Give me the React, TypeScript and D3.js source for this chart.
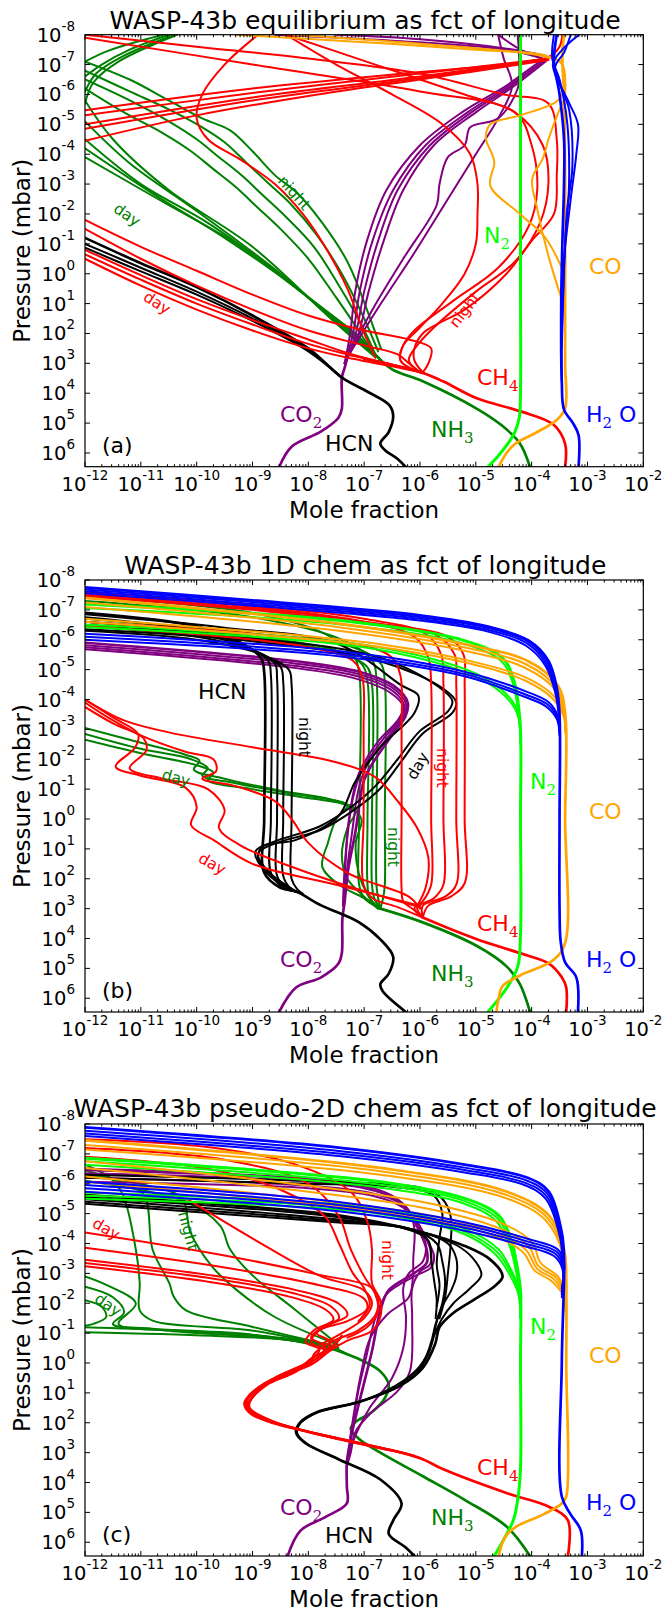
import * as d3 from "d3";

// every point is [log10 mole fraction, log10 pressure in mbar]
type Pt = [number, number];

const X_DECADES = [-12, -11, -10, -9, -8, -7, -6, -5, -4, -3, -2];
const Y_DECADES = [-8, -7, -6, -5, -4, -3, -2, -1, 0, 1, 2, 3, 4, 5, 6];
const P_BOTTOM = 6.46;

// ---------- panel (a): equilibrium ----------
const A_H2O: Pt[][] = [
  [[-3.16, 6.46], [-3.16, 5.4], [-3.26, 5.0], [-3.42, 4.55], [-3.46, 3.6], [-3.47, 1], [-3.45, -1], [-3.42, -3], [-3.42, -4.5], [-3.5, -6], [-3.6, -7.1], [-3.55, -8]],
  [[-3.46, 3.6], [-3.44, 0], [-3.3, -2.5], [-3.2, -4.0], [-3.17, -5.0], [-3.35, -5.8], [-3.62, -7.0], [-3.45, -7.5], [-3.15, -8]],
  [[-3.46, 2.5], [-3.4, -1], [-3.33, -3], [-3.36, -5], [-3.5, -6.5], [-3.63, -7.2], [-3.6, -8]],
  [[-3.46, 2], [-3.37, -2], [-3.27, -3.6], [-3.33, -5.5], [-3.58, -6.9], [-3.42, -7.4], [-3.3, -8]],
];
const A_CO: Pt[][] = [
  [[-4.59, 6.46], [-4.45, 6.0], [-4.3, 5.7], [-3.9, 5.3], [-3.55, 4.9], [-3.4, 4.5], [-3.4, 3], [-3.4, 0], [-3.4, -3], [-3.42, -6], [-3.45, -7.3], [-3.42, -8]],
  [[-3.4, 0.05], [-3.76, -1.22], [-4.21, -2.0], [-4.74, -2.94], [-4.67, -3.75], [-4.82, -4.55], [-4.74, -5.0], [-4.21, -5.3], [-3.53, -5.8], [-3.4, -6.3]],
  [[-3.4, 1.2], [-3.69, -0.53], [-3.91, -2.25], [-3.99, -3.17], [-3.8, -3.86], [-3.69, -4.55], [-3.53, -5.36], [-3.4, -5.9]],
  [[-9.3, -8], [-7, -7.75], [-5, -7.5], [-3.75, -7.3], [-3.45, -7.0], [-3.4, -6]],
  [[-8.3, -8], [-6, -7.7], [-4, -7.35], [-3.45, -7.1]],
];
const A_N2: Pt[][] = [
  [[-4.2, -8], [-4.2, 0], [-4.2, 4], [-4.22, 4.8], [-4.3, 5.3], [-4.45, 5.75], [-4.6, 6.1], [-4.78, 6.46]],
];
const A_NH3: Pt[][] = [
  [[-4.03, 6.46], [-4.21, 5.68], [-4.52, 5.1], [-4.97, 4.53], [-5.95, 3.6], [-6.5, 3.2], [-6.75, 2.8]],
  [[-12, -5.8], [-11.5, -4.5], [-10.5, -2.8], [-9, -0.9], [-7.6, 1.5], [-6.8, 2.8]],
  [[-12, -5.1], [-11.2, -3.7], [-10, -2.1], [-8.5, 0], [-7.4, 1.8], [-6.75, 2.8]],
  [[-12, -4.5], [-11, -3.0], [-9.8, -1.7], [-8.4, 0.2], [-7.3, 1.9], [-6.7, 2.9]],
  [[-12, -4.2], [-10.8, -2.7], [-9.5, -1.2], [-8.2, 0.5], [-7.2, 2.0], [-6.7, 2.9]],
  [[-12, -3.9], [-10.6, -2.4], [-9.2, -0.9], [-8, 0.8], [-7.1, 2.1], [-6.7, 2.9]],
  [[-12, -7.1], [-11.2, -6.5], [-10.5, -5.8], [-9.9, -5.2], [-9.4, -4.8], [-9.0, -4.1], [-8.6, -3.3], [-8.2, -2.7], [-7.75, -1.7], [-7.3, -0.4], [-6.95, 1.2], [-6.7, 2.5]],
  [[-12, -6.8], [-11.2, -6.1], [-10.5, -5.5], [-9.9, -4.9], [-9.5, -4.4], [-9.1, -3.7], [-8.7, -3.0], [-8.3, -2.3], [-7.85, -1.3], [-7.4, 0], [-7.0, 1.5], [-6.75, 2.6]],
  [[-12, -6.5], [-11.2, -5.8], [-10.5, -5.1], [-10, -4.5], [-9.6, -3.9], [-9.2, -3.3], [-8.8, -2.6], [-8.4, -1.9], [-7.9, -0.9], [-7.45, 0.4], [-7.05, 1.7], [-6.8, 2.7]],
  [[-12, -6.2], [-11.3, -5.4], [-10.6, -4.7], [-10.1, -4.1], [-9.7, -3.5], [-9.3, -2.9], [-8.9, -2.2], [-8.5, -1.5], [-8.0, -0.5], [-7.5, 0.8], [-7.1, 1.9], [-6.8, 2.8]],
  [[-12, -7.1], [-11.6, -7.45], [-11.0, -7.8], [-10.6, -8]],
  [[-12, -6.6], [-11.7, -7.0], [-11.2, -7.5], [-10.5, -8]],
  [[-12, -6.1], [-11.8, -6.7], [-11.3, -7.3], [-10.4, -8]],
  [[-12, -5.7], [-11.85, -6.4], [-11.4, -7.1], [-10.35, -8]],
];
const A_CH4: Pt[][] = [
  [[-3.4, 6.46], [-3.4, 5.7], [-3.61, 5.05], [-4.21, 4.6], [-4.97, 4.18], [-5.58, 3.61], [-5.95, 3.32], [-6.5, 3.05], [-7.0, 2.85]],
  [[-12, -0.5], [-11, 0.4], [-10, 1.2], [-9, 1.9], [-8, 2.5], [-7.2, 2.85], [-6.5, 3.1], [-5.95, 3.32]],
  [[-12, -0.65], [-11, 0.2], [-10, 1.0], [-9, 1.7], [-8, 2.35], [-7.2, 2.75], [-6.5, 3.05], [-5.95, 3.3]],
  [[-12, -0.8], [-11, 0.05], [-10, 0.85], [-9, 1.55], [-8, 2.2], [-7.3, 2.65], [-6.6, 3.0], [-5.95, 3.3]],
  [[-12, -1.8], [-11, -0.9], [-10, -0.1], [-9, 0.7], [-8, 1.4], [-7, 1.9], [-6.2, 2.2], [-5.8, 2.5], [-5.85, 3.0], [-5.95, 3.3]],
  [[-12, -1.5], [-11, -0.5], [-10, 0.4], [-9, 1.2], [-8, 1.9], [-7, 2.4], [-6.4, 2.7], [-6.2, 3.0], [-6.0, 3.3]],
  [[-12, -8], [-10, -7.6], [-8, -7.2], [-6, -6.7], [-4.5, -6.0], [-3.7, -5.7], [-3.55, -4.5], [-3.55, -3.3], [-3.6, -2.0], [-4.0, -1.1], [-4.45, 0], [-5.2, 1.2], [-5.6, 1.6], [-5.95, 2.0], [-6.1, 2.5], [-6.1, 2.9], [-5.95, 3.3]],
  [[-8.4, -8], [-6.8, -7.0], [-5.2, -6.0], [-4.3, -5.4], [-3.8, -4.3], [-3.7, -3.0], [-3.85, -1.7], [-4.3, -0.4], [-5.0, 0.6], [-5.75, 1.8], [-6.05, 2.4], [-6.2, 2.9], [-6.0, 3.3]],
  [[-12, -7.9], [-9, -7.0], [-6, -6.1], [-4.3, -5.4], [-4.0, -4.3], [-3.9, -2.8], [-4.05, -1.6], [-4.6, -0.2], [-5.4, 0.9], [-6.1, 1.9], [-6.3, 2.4], [-6.35, 2.9], [-6.1, 3.25]],
  [[-8.9, -8], [-9.5, -7], [-9.9, -6], [-10, -5.2], [-9.8, -4.5], [-9.2, -3.8], [-8.6, -3.0], [-8.1, -2.0], [-7.7, -0.9], [-7.3, 0.5], [-7.0, 2.0], [-6.8, 2.8]],
  [[-8.4, -8], [-7.5, -7], [-6.5, -6], [-5.6, -5], [-5.1, -4.0], [-4.97, -3.0], [-4.97, -2.0], [-5.0, -1.0], [-5.2, 0], [-5.6, 1.0], [-6.0, 1.8], [-6.3, 2.4], [-6.35, 2.9], [-6.0, 3.3]],
  [[-12, -5.47], [-9, -6.2], [-6, -6.75], [-4.5, -7.0], [-3.7, -7.25], [-3.5, -7.6], [-3.45, -8]],
  [[-12, -5.3], [-9, -6.05], [-6, -6.7], [-3.7, -7.2]],
  [[-12, -5.0], [-9, -5.9], [-6, -6.6], [-3.7, -7.2]],
  [[-12, -4.85], [-9, -5.8], [-6, -6.55], [-3.7, -7.2]],
  [[-12, -4.45], [-10, -5.3], [-8, -5.95], [-6, -6.5], [-3.7, -7.15]],
];
const A_HCN: Pt[][] = [
  [[-12, -1.2], [-11, -0.35], [-10, 0.45], [-9, 1.4], [-8, 2.5], [-7.39, 3.49], [-6.94, 3.95], [-6.55, 4.4], [-6.48, 4.76], [-6.56, 5.3], [-6.71, 5.68], [-6.63, 5.9], [-6.4, 6.2], [-6.26, 6.46]],
  [[-12, -1.0], [-11, -0.2], [-10, 0.6], [-9, 1.5], [-8, 2.55], [-7.39, 3.49]],
  [[-12, -0.87], [-11, -0.08], [-10, 0.7], [-9, 1.58], [-8, 2.6], [-7.39, 3.5]],
];
const A_CO2: Pt[][] = [
  [[-8.52, 6.46], [-8.3, 5.79], [-7.77, 5.28], [-7.46, 4.82], [-7.4, 4.53], [-7.4, 3.49], [-7.35, 3.15], [-7.3, 2.8]],
  [[-7.35, 3.0], [-7.25, 2.0], [-7.16, 0.6], [-6.95, -1.1], [-6.6, -2.8], [-6.0, -4.3], [-5.25, -5.4], [-4.45, -6.3], [-3.85, -7.1], [-3.7, -7.25]],
  [[-7.35, 3.0], [-7.2, 2.0], [-7.08, 0.6], [-6.85, -1.1], [-6.48, -2.8], [-5.9, -4.3], [-5.15, -5.4], [-4.4, -6.3], [-3.8, -7.1]],
  [[-7.35, 3.0], [-7.15, 2.0], [-7.0, 0.6], [-6.75, -1.1], [-6.4, -2.8], [-5.82, -4.3], [-5.08, -5.4], [-4.35, -6.3], [-3.8, -7.1]],
  [[-7.35, 3.0], [-7.1, 2.0], [-6.92, 0.6], [-6.65, -1.1], [-6.3, -2.8], [-5.75, -4.3], [-5.0, -5.4], [-4.3, -6.3], [-3.75, -7.1]],
  [[-7.3, 2.8], [-6.85, 1.2], [-6.3, -0.5], [-5.7, -2.3], [-5.65, -3.0], [-5.5, -3.9], [-5.2, -4.3], [-5.1, -4.9], [-4.6, -5.2], [-4.25, -6.2], [-4.22, -7], [-4.25, -8]],
  [[-7.3, 2.8], [-6.7, 1.0], [-6.1, -0.7], [-5.5, -2.5], [-5.0, -4.0], [-4.6, -5.2], [-4.35, -6.3], [-4.5, -7.2], [-4.6, -8]],
  [[-7.5, -8], [-6, -7.85], [-4.5, -7.55], [-3.75, -7.3]],
  [[-8.6, -8], [-6.5, -7.8], [-4.5, -7.5], [-3.8, -7.2]],
  [[-4.6, -8], [-4.2, -7.5], [-3.8, -7.2]],
];

// ---------- panel (b): 1D chemistry ----------
const B_H2O: Pt[][] = [
  [[-12, -7.75], [-9, -7.32], [-6, -6.82], [-4.8, -6.45], [-4.05, -5.97], [-3.7, -5.3], [-3.55, -4.4], [-3.5, -3.5], [-3.5, 0], [-3.5, 3], [-3.48, 4.1], [-3.4, 4.8], [-3.2, 5.3], [-3.17, 6.45]],
  [[-12, -7.68], [-9, -7.26], [-6, -6.76], [-4.8, -6.4], [-4.05, -5.92], [-3.72, -5.25], [-3.56, -4.35], [-3.5, -3.4]],
  [[-12, -7.62], [-9, -7.2], [-6, -6.7], [-4.8, -6.34], [-4.07, -5.86], [-3.74, -5.2], [-3.57, -4.3], [-3.5, -3.3]],
  [[-12, -7.56], [-9, -7.14], [-6, -6.64], [-4.8, -6.28], [-4.1, -5.8], [-3.76, -5.15], [-3.58, -4.25], [-3.5, -3.2]],
  [[-12, -6.2], [-7.46, -5.62], [-5.2, -4.93], [-4.06, -4.24], [-3.69, -3.9], [-3.53, -3.44], [-3.5, -3.0]],
  [[-12, -6.1], [-7.46, -5.53], [-5.2, -4.85], [-4.1, -4.16], [-3.72, -3.84], [-3.54, -3.4], [-3.5, -2.9]],
  [[-12, -6.0], [-7.46, -5.45], [-5.2, -4.78], [-4.14, -4.1], [-3.75, -3.78], [-3.55, -3.35], [-3.5, -2.8]],
];
const B_CO: Pt[][] = [
  [[-12, -7.4], [-7.46, -6.54], [-5.2, -5.85], [-4.06, -5.28], [-3.53, -4.47], [-3.4, -3.55], [-3.4, 0], [-3.4, 4.15], [-3.61, 4.72], [-4.21, 5.24], [-4.52, 5.59], [-4.59, 5.99], [-4.63, 6.45]],
  [[-12, -7.25], [-7.46, -6.42], [-5.2, -5.74], [-4.1, -5.18], [-3.56, -4.4], [-3.4, -3.45]],
  [[-12, -7.1], [-7.46, -6.3], [-5.2, -5.63], [-4.14, -5.08], [-3.58, -4.33], [-3.4, -3.35]],
  [[-12, -6.7], [-6.71, -5.85], [-4.82, -5.16], [-4.06, -4.7], [-3.61, -4.13], [-3.42, -3.5], [-3.4, -3.0]],
  [[-12, -6.6], [-6.71, -5.76], [-4.82, -5.07], [-4.1, -4.62], [-3.64, -4.06], [-3.43, -3.45], [-3.4, -2.9]],
];
const B_N2: Pt[][] = [
  [[-12, -7.2], [-7.46, -6.65], [-5.2, -5.97], [-4.52, -5.39], [-4.33, -4.7], [-4.21, -3.32], [-4.2, 0], [-4.2, 3.92], [-4.25, 4.95], [-4.44, 5.64], [-4.78, 6.45]],
  [[-12, -7.06], [-7.46, -6.52], [-5.2, -5.86], [-4.55, -5.3], [-4.35, -4.62], [-4.22, -3.25], [-4.2, -2.5]],
  [[-12, -6.5], [-6.71, -5.74], [-4.82, -4.7], [-4.29, -3.78], [-4.2, -2.98]],
  [[-12, -6.42], [-6.71, -5.66], [-4.85, -4.62], [-4.3, -3.7], [-4.2, -2.9]],
];
const B_CH4: Pt[][] = [
  [[-5.95, 3.3], [-5.5, 3.65], [-4.97, 4.03], [-4.21, 4.49], [-3.69, 4.84], [-3.46, 5.3], [-3.38, 5.64], [-3.38, 6.45]],
  [[-12, -6.45], [-9.5, -6.1], [-8, -5.75], [-7.2, -5.3], [-7.03, -4.7], [-7.01, -3], [-7.01, 0], [-7.01, 2.2], [-6.85, 2.65], [-6.4, 2.95], [-5.95, 3.3]],
  [[-12, -6.6], [-9, -6.2], [-7, -5.8], [-6.5, -5.4], [-6.35, -4.8], [-6.33, -3], [-6.33, 0], [-6.33, 2.3], [-6.3, 2.75], [-6.1, 3.05], [-5.95, 3.3]],
  [[-12, -7.55], [-9, -7.1], [-7, -6.6], [-6.1, -6.1], [-5.85, -5.4], [-5.8, -4.5], [-5.8, 0], [-5.8, 2.2], [-5.95, 2.75], [-6.1, 3.0], [-5.95, 3.3]],
  [[-12, -7.6], [-9, -7.15], [-7, -6.7], [-5.9, -6.2], [-5.62, -5.5], [-5.58, -4.5], [-5.58, 0], [-5.58, 2.2], [-5.75, 2.65], [-6.05, 2.95], [-5.95, 3.3]],
  [[-12, -7.5], [-9, -7.05], [-7, -6.6], [-5.7, -6.15], [-5.38, -5.5], [-5.35, -4.5], [-5.35, 0], [-5.35, 2.2], [-5.55, 2.6], [-5.95, 2.9], [-5.95, 3.3]],
  [[-12, -7.45], [-9, -7.0], [-7, -6.55], [-5.5, -6.1], [-5.22, -5.5], [-5.2, -4.5], [-5.2, 0], [-5.2, 2.15], [-5.45, 2.6], [-5.85, 2.9], [-5.95, 3.3]],
  [[-12, -4.0], [-11.5, -3.4], [-11.05, -2.85], [-11.1, -2.4], [-11.45, -1.75], [-11.0, -1.45], [-10.2, -1.05], [-10.0, -0.4], [-10.1, 0.2], [-9.7, 0.7], [-9.0, 1.5], [-7.5, 2.2], [-6.0, 2.9]],
  [[-12, -3.75], [-11.5, -3.2], [-10.95, -2.7], [-10.9, -2.3], [-11.2, -1.7], [-10.6, -1.35], [-9.8, -1.0], [-9.5, -0.3], [-9.6, 0.3], [-9.2, 0.9], [-8.3, 1.6], [-7.2, 2.3], [-6.0, 2.95]],
  [[-12, -3.9], [-11.5, -3.3], [-11.0, -2.8], [-10.2, -2.25], [-9.7, -2.0], [-9.65, -1.6], [-9.9, -1.35], [-9.3, -1.1], [-8.6, -0.6], [-8.3, 0], [-8.0, 0.8], [-7.3, 1.8], [-6.2, 2.6], [-6.0, 3.0]],
  [[-12, -4.0], [-11.3, -3.3], [-10.5, -2.9], [-9.0, -2.4], [-7.5, -1.9], [-6.8, -1.4], [-6.4, -0.6], [-6.05, 0.3], [-5.85, 1.3], [-5.9, 2.3], [-6.05, 2.9]],
];
const B_NH3: Pt[][] = [
  [[-6.71, 3.0], [-5.95, 3.46], [-4.97, 4.26], [-4.44, 4.95], [-4.21, 5.53], [-4.03, 6.45]],
  [[-12, -7.45], [-9, -6.9], [-7.7, -6.2], [-7.2, -5.5], [-7.09, -4.9], [-7.09, 0], [-7.09, 2.2], [-7.0, 2.65], [-6.71, 3.0]],
  [[-12, -6.6], [-9, -6.1], [-7.6, -5.7], [-7.05, -5.2], [-6.94, -4.6], [-6.94, 0], [-6.94, 2.2], [-6.9, 2.65], [-6.71, 3.0]],
  [[-12, -6.5], [-9, -6.0], [-7.5, -5.6], [-6.95, -5.1], [-6.86, -4.5], [-6.86, 0], [-6.86, 2.2], [-6.82, 2.65], [-6.71, 3.0]],
  [[-12, -7.3], [-9, -6.75], [-7.4, -6.0], [-6.85, -5.3], [-6.78, -4.7], [-6.78, 0], [-6.78, 2.2], [-6.75, 2.65], [-6.71, 3.0]],
  [[-12, -6.7], [-9, -6.2], [-7.2, -5.75], [-6.7, -5.2], [-6.63, -4.6], [-6.63, 0], [-6.63, 2.2], [-6.66, 2.65], [-6.71, 3.0]],
  [[-12, -3.05], [-11, -2.55], [-10.2, -2.15], [-9.95, -1.95], [-10.05, -1.65], [-9.5, -1.35], [-8.5, -0.95], [-7.7, -0.7], [-7.3, -0.45], [-7.5, 0], [-7.65, 0.8], [-7.75, 1.6], [-7.45, 2.2], [-7.0, 2.65], [-6.71, 3.0]],
  [[-12, -2.85], [-11, -2.35], [-10.1, -2.0], [-9.8, -1.7], [-9.9, -1.45], [-9.3, -1.2], [-8.3, -0.85], [-7.5, -0.6], [-7.15, -0.3], [-7.3, 0.3], [-7.4, 1.2], [-7.3, 2.0], [-7.0, 2.6], [-6.75, 3.0]],
  [[-12, -2.65], [-11, -2.2], [-10.0, -1.8], [-9.7, -1.55], [-9.8, -1.3], [-9.0, -1.0], [-8.0, -0.7], [-7.3, -0.45], [-7.05, 0], [-7.15, 0.8], [-7.1, 1.8], [-6.95, 2.5], [-6.75, 3.0]],
];
const B_HCN: Pt[][] = [
  [[-12, -6.9], [-10, -6.45], [-9.28, -5.97], [-8.85, -5.4], [-8.79, -4.9], [-8.79, 0], [-8.79, 1.8], [-8.5, 2.3], [-8.22, 2.43], [-7.77, 2.89], [-7.09, 3.46], [-6.71, 4.03], [-6.48, 4.61], [-6.56, 5.18], [-6.71, 5.53], [-6.67, 5.76], [-6.26, 6.45]],
  [[-12, -6.75], [-10, -6.3], [-9.2, -5.85], [-8.72, -5.3], [-8.67, -4.8], [-8.67, 0], [-8.67, 1.8], [-8.45, 2.3], [-8.22, 2.43]],
  [[-12, -6.6], [-10, -6.2], [-9.1, -5.75], [-8.6, -5.2], [-8.56, -4.7], [-8.56, 0], [-8.56, 1.9], [-8.4, 2.3], [-8.2, 2.45]],
  [[-12, -6.45], [-10, -6.1], [-9.0, -5.65], [-8.5, -5.1], [-8.45, -4.6], [-8.45, 0], [-8.45, 1.9], [-8.33, 2.3], [-8.18, 2.45]],
  [[-12, -6.3], [-10, -6.0], [-8.9, -5.55], [-8.35, -5.0], [-8.3, -4.5], [-8.3, 0], [-8.3, 2.0], [-8.2, 2.35], [-8.1, 2.5]],
  [[-12, -6.85], [-9.5, -6.4], [-7.46, -5.85], [-6.33, -4.47], [-6.03, -4.13], [-6.1, -3.55], [-6.71, -2.4], [-7.16, -1.25], [-7.46, -0.1], [-8.22, 0.7], [-8.83, 0.93], [-8.9, 1.39], [-8.67, 1.85], [-8.22, 2.43]],
  [[-12, -6.35], [-9, -5.95], [-6.71, -5.28], [-5.58, -4.36], [-5.35, -3.9], [-5.42, -3.55], [-5.95, -2.86], [-6.33, -1.94], [-6.71, -1.02], [-7.16, -0.33], [-7.77, 0.36], [-8.6, 0.82], [-8.9, 1.16], [-8.67, 1.85], [-8.22, 2.43]],
  [[-12, -6.5], [-9, -6.05], [-6.71, -5.4], [-5.65, -4.4], [-5.42, -3.95], [-5.5, -3.6], [-6.0, -2.95], [-6.4, -2.0], [-6.8, -1.1], [-7.2, -0.45], [-7.8, 0.25], [-8.6, 0.75], [-8.95, 1.1], [-8.75, 1.8], [-8.3, 2.4]],
];
const B_CO2: Pt[][] = [
  [[-12, -5.9], [-8.22, -5.28], [-7.09, -4.93], [-6.48, -4.47], [-6.22, -3.9], [-6.26, -3.44], [-6.48, -2.86], [-6.86, -1.83], [-7.01, -1.25], [-7.16, 0.47], [-7.28, 1.62], [-7.35, 2.77], [-7.39, 3.34], [-7.4, 4.49], [-7.46, 4.84], [-7.77, 5.3], [-8.22, 5.64], [-8.52, 6.45]],
  [[-12, -5.82], [-8.22, -5.2], [-7.1, -4.85], [-6.5, -4.4], [-6.25, -3.85], [-6.3, -3.4], [-6.55, -2.8], [-6.95, -1.8], [-7.1, -1.0], [-7.22, 0.5], [-7.3, 1.6], [-7.36, 2.8]],
  [[-12, -5.75], [-8.22, -5.12], [-7.12, -4.78], [-6.52, -4.33], [-6.28, -3.8], [-6.35, -3.35], [-6.65, -2.7], [-7.05, -1.6], [-7.2, -0.7], [-7.3, 0.6], [-7.34, 1.7], [-7.37, 2.8]],
  [[-12, -5.68], [-8.22, -5.05], [-7.15, -4.7], [-6.55, -4.25], [-6.3, -3.75], [-6.4, -3.3], [-6.75, -2.6], [-7.1, -1.5], [-7.25, -0.3], [-7.32, 0.9], [-7.36, 2.0], [-7.38, 2.9]],
];

// ---------- panel (c): pseudo-2D chemistry ----------
const C_H2O: Pt[][] = [
  [[-12, -7.89], [-7.46, -7.21], [-5.2, -6.64], [-4.06, -6.19], [-3.69, -5.73], [-3.46, -4.37], [-3.42, -3.58], [-3.46, 0], [-3.46, 4.47], [-3.31, 5.04], [-3.12, 5.6], [-3.1, 6.46]],
  [[-12, -7.77], [-7.46, -7.1], [-5.2, -6.54], [-4.08, -6.1], [-3.71, -5.65], [-3.47, -4.3], [-3.43, -3.5]],
  [[-12, -7.68], [-7.46, -7.01], [-5.2, -6.46], [-4.1, -6.02], [-3.73, -5.58], [-3.48, -4.24], [-3.44, -3.45]],
  [[-12, -7.6], [-7.46, -6.93], [-5.2, -6.38], [-4.12, -5.95], [-3.75, -5.5], [-3.49, -4.18], [-3.45, -3.4]],
  [[-12, -6.07], [-7.46, -5.39], [-5.2, -4.71], [-4.06, -4.15], [-3.53, -3.8], [-3.42, -3.35], [-3.46, -2.5]],
  [[-12, -5.96], [-7.46, -5.29], [-5.2, -4.62], [-4.08, -4.07], [-3.55, -3.72], [-3.43, -3.28], [-3.46, -2.4]],
  [[-12, -5.85], [-7.46, -5.19], [-5.2, -4.53], [-4.1, -3.99], [-3.57, -3.65], [-3.44, -3.22], [-3.46, -2.3]],
  [[-12, -5.73], [-7.46, -5.08], [-5.2, -4.43], [-4.12, -3.91], [-3.6, -3.58], [-3.45, -3.16], [-3.46, -2.2]],
];
const C_CO: Pt[][] = [
  [[-12, -7.45], [-6.71, -6.53], [-4.44, -5.73], [-3.69, -4.94], [-3.42, -3.8], [-3.38, -2.5], [-3.38, 0], [-3.38, 4.47], [-3.46, 4.7], [-3.76, 5.04], [-4.29, 5.49], [-4.48, 5.83], [-4.59, 6.46]],
  [[-12, -7.3], [-6.71, -6.42], [-4.46, -5.63], [-3.72, -4.86], [-3.43, -3.72], [-3.38, -2.4]],
  [[-12, -7.15], [-6.71, -6.3], [-4.48, -5.53], [-3.75, -4.78], [-3.44, -3.65], [-3.38, -2.3]],
  [[-12, -6.75], [-5.95, -5.39], [-4.44, -4.6], [-3.99, -4.03], [-3.84, -3.35], [-3.53, -2.9], [-3.42, -2.44], [-3.38, -1.5]],
  [[-12, -6.53], [-5.95, -5.2], [-4.5, -4.45], [-4.05, -3.9], [-3.88, -3.25], [-3.56, -2.85], [-3.43, -2.4], [-3.38, -1.5]],
  [[-12, -6.24], [-5.95, -4.98], [-4.55, -4.3], [-4.1, -3.78], [-3.9, -3.15], [-3.6, -2.8], [-3.44, -2.35], [-3.38, -1.5]],
  [[-12, -6.07], [-5.95, -4.85], [-4.6, -4.2], [-4.15, -3.7], [-3.95, -3.1], [-3.65, -2.75], [-3.45, -2.3], [-3.38, -1.5]],
];
const C_N2: Pt[][] = [
  [[-12, -6.85], [-6.71, -6.07], [-5.2, -5.51], [-4.59, -4.94], [-4.37, -4.15], [-4.25, -3.12], [-4.2, -2.44], [-4.2, 0], [-4.2, 3.56], [-4.25, 4.58], [-4.33, 5.27], [-4.67, 6.46]],
  [[-12, -6.75], [-6.71, -5.97], [-5.2, -5.42], [-4.62, -4.86], [-4.39, -4.08], [-4.26, -3.05], [-4.2, -2.3]],
  [[-12, -6.64], [-6.71, -5.87], [-5.2, -5.33], [-4.65, -4.78], [-4.41, -4.0], [-4.27, -2.98], [-4.2, -2.2]],
  [[-12, -5.7], [-6.71, -5.17], [-5.2, -4.49], [-4.59, -3.8], [-4.37, -3.12], [-4.22, -2.44], [-4.2, -1.5]],
  [[-12, -5.6], [-6.71, -5.08], [-5.2, -4.4], [-4.62, -3.72], [-4.38, -3.05], [-4.23, -2.38], [-4.2, -1.5]],
  [[-12, -5.5], [-6.71, -4.99], [-5.2, -4.31], [-4.65, -3.64], [-4.4, -2.98], [-4.24, -2.32], [-4.2, -1.5]],
];
const C_HCN: Pt[][] = [
  [[-12, -5.62], [-7.46, -4.94], [-5.95, -4.37], [-5.2, -3.92], [-4.74, -3.46], [-4.52, -2.9], [-4.67, -2.56], [-5.05, -2.1], [-5.42, -1.65], [-5.65, -1.2], [-5.73, -0.63], [-5.95, 0.16], [-6.33, 0.73], [-7.09, 1.3], [-7.84, 1.64], [-8.14, 1.98], [-8.22, 2.32], [-8.07, 2.66], [-7.46, 3.22], [-6.71, 3.9], [-6.33, 4.7], [-6.48, 5.27], [-6.56, 5.72], [-6.26, 6.17], [-6.1, 6.46]],
  [[-12, -5.55], [-7.46, -4.88], [-6.0, -4.4], [-5.35, -3.95], [-5.05, -3.5], [-4.9, -2.95], [-5.1, -2.5], [-5.4, -2.0], [-5.6, -1.5], [-5.75, -0.9], [-5.85, -0.3], [-6.05, 0.3], [-6.4, 0.8], [-7.09, 1.3], [-7.84, 1.66], [-8.14, 2.0], [-8.2, 2.34], [-8.04, 2.68], [-7.46, 3.22]],
  [[-12, -5.48], [-7.46, -4.8], [-6.1, -4.45], [-5.5, -4.0], [-5.35, -3.5], [-5.35, -2.9], [-5.45, -2.4], [-5.6, -1.9], [-5.72, -1.3], [-5.8, -0.7], [-5.95, 0.0], [-6.3, 0.6], [-7.0, 1.25], [-7.8, 1.62], [-8.12, 1.96]],
  [[-12, -5.4], [-7.46, -4.75], [-6.2, -4.5], [-5.7, -4.0], [-5.6, -3.4], [-5.55, -2.7], [-5.6, -2.0], [-5.7, -1.4], [-5.8, -0.6], [-6.0, 0.1], [-6.35, 0.7]],
  [[-12, -6.3], [-8, -6.1], [-6.71, -6.0], [-5.95, -5.85], [-5.6, -5.5], [-5.45, -4.9], [-5.45, -4.0], [-5.5, -3.0], [-5.55, -2.2], [-5.65, -1.5]],
  [[-12, -6.2], [-8, -6.0], [-6.5, -5.9], [-5.75, -5.6], [-5.6, -5.0], [-5.65, -4.2], [-5.7, -3.3], [-5.65, -2.6], [-5.7, -1.9]],
  [[-12, -5.33], [-7.46, -4.7], [-6.3, -4.52], [-5.85, -4.1], [-5.8, -3.5], [-5.75, -2.8], [-5.7, -2.1], [-5.72, -1.5]],
];
const C_CO2: Pt[][] = [
  [[-12, -6.5], [-8.22, -6.19], [-7.09, -5.96], [-6.56, -5.62], [-6.26, -5.17], [-6.03, -4.49], [-5.88, -3.8], [-5.88, -3.35], [-6.1, -3.01], [-6.56, -2.44], [-6.71, -1.76], [-6.86, -0.4], [-7.01, 0.73], [-7.16, 1.86], [-7.24, 2.54], [-7.31, 3.34], [-7.31, 4.13], [-7.31, 4.7], [-7.69, 5.15], [-8.14, 5.61], [-8.37, 6.46]],
  [[-12, -6.35], [-8.2, -6.1], [-7.0, -5.85], [-6.45, -5.5], [-6.15, -5.0], [-5.95, -4.4], [-5.8, -3.7], [-5.82, -3.3], [-6.0, -3.05], [-6.14, -2.5], [-6.14, -1.5], [-6.18, 0.28], [-6.41, 0.96], [-6.86, 1.64], [-7.16, 2.32], [-7.24, 3.0], [-7.3, 3.4]],
  [[-12, -6.2], [-8.1, -5.95], [-6.9, -5.7], [-6.35, -5.35], [-6.08, -4.8], [-5.9, -4.2], [-5.75, -3.6], [-5.8, -3.2], [-6.1, -2.9], [-6.6, -2.3], [-6.8, -1.5], [-6.95, -0.3], [-7.1, 0.9], [-7.2, 2.0], [-7.28, 3.0]],
  [[-12, -6.07], [-8, -5.85], [-6.85, -5.6], [-6.3, -5.2], [-6.05, -4.6], [-5.9, -4.0], [-5.95, -3.4], [-6.2, -3.0], [-6.3, -2.5], [-6.25, -1.5], [-6.3, -0.5], [-6.5, 0.5], [-6.9, 1.5], [-7.15, 2.4], [-7.28, 3.1]],
  [[-12, -6.45], [-8, -6.15], [-6.95, -5.9], [-6.5, -5.6], [-6.2, -5.1], [-6.1, -4.5], [-6.12, -3.5], [-6.13, -2.8], [-6.2, -2.2], [-6.6, -1.6], [-6.9, -0.8], [-7.05, 0.3], [-7.15, 1.3], [-7.25, 2.5]],
];
const C_CH4: Pt[][] = [
  [[-3.35, 6.46], [-3.35, 5.27], [-3.69, 4.81], [-4.44, 4.36], [-5.58, 3.56], [-5.95, 3.22], [-6.33, 3.0], [-7.46, 2.54], [-8.6, 1.98], [-9.05, 1.52], [-9.05, 1.3], [-8.75, 0.73], [-8.22, 0.28], [-7.92, -0.18], [-7.6, -0.5], [-7.4, -0.9]],
  [[-12, -4.37], [-9.5, -3.6], [-7.8, -2.95], [-6.9, -2.56], [-6.75, -2.2], [-6.8, -1.6], [-7.1, -1.1], [-7.6, -0.7], [-7.9, -0.3], [-7.95, 0.0], [-8.3, 0.3], [-8.8, 0.7], [-9.1, 1.2], [-9.05, 1.6], [-8.6, 2.0], [-7.46, 2.54], [-6.33, 3.0], [-5.95, 3.22]],
  [[-12, -3.86], [-9.5, -3.2], [-7.8, -2.6], [-7.0, -2.15], [-6.95, -1.8], [-7.3, -1.4], [-7.8, -1.1], [-7.95, -0.7], [-7.7, -0.4], [-7.9, 0.0], [-8.4, 0.4], [-8.9, 0.85], [-9.1, 1.3], [-8.9, 1.8], [-8.2, 2.2], [-7.2, 2.65], [-6.2, 3.05]],
  [[-12, -3.46], [-9.8, -2.95], [-8.22, -2.44], [-7.46, -1.99], [-7.3, -1.6], [-7.6, -1.3], [-7.85, -1.0], [-7.6, -0.7], [-7.75, -0.3], [-8.1, 0.1], [-8.6, 0.5], [-9.0, 1.0], [-9.12, 1.45], [-8.8, 1.9], [-8.0, 2.3], [-7.0, 2.7], [-6.1, 3.1]],
  [[-12, -3.35], [-9.8, -2.85], [-8.3, -2.35], [-7.6, -1.9], [-7.45, -1.5], [-7.75, -1.2], [-7.95, -0.85], [-7.7, -0.55], [-7.85, -0.15], [-8.3, 0.25], [-8.8, 0.7], [-9.1, 1.2], [-9.08, 1.6], [-8.5, 2.05], [-7.5, 2.5]],
  [[-12, -3.24], [-9.9, -2.75], [-8.4, -2.25], [-7.7, -1.8], [-7.55, -1.45], [-7.9, -1.1], [-8.05, -0.7], [-7.8, -0.45], [-8.0, -0.05], [-8.5, 0.4], [-8.95, 0.9], [-9.15, 1.35], [-9.0, 1.75], [-8.4, 2.1], [-7.46, 2.55]],
  [[-12, -7.49], [-9.73, -7.21], [-8.22, -6.64], [-7.24, -5.73], [-6.94, -4.71], [-6.86, -3.8], [-6.86, -2.67], [-6.71, -2.1], [-6.71, -1.54], [-6.86, -1.08], [-7.31, -0.74], [-7.62, -0.4], [-7.9, 0.0], [-8.4, 0.4], [-8.9, 0.9], [-9.1, 1.4]],
  [[-10.19, -5.51], [-8.98, -4.15], [-7.77, -2.9], [-7.01, -2.44], [-6.86, -2.0], [-7.0, -1.5], [-7.4, -1.0], [-7.8, -0.6]],
  [[-12, -7.2], [-9.5, -6.8], [-8.0, -6.0], [-7.46, -4.94], [-7.24, -3.8], [-7.0, -2.9], [-6.8, -2.3], [-6.75, -1.7], [-6.95, -1.2], [-7.3, -0.85]],
  [[-12, -6.9], [-9.8, -6.5], [-8.5, -5.8], [-7.7, -4.9], [-7.45, -4.0], [-7.2, -3.0], [-7.0, -2.5], [-6.9, -1.95], [-7.1, -1.4]],
];
const C_NH3: Pt[][] = [
  [[-4.03, 6.46], [-4.44, 5.49], [-5.2, 4.58], [-5.95, 3.79], [-6.71, 3.0], [-7.09, 2.54], [-7.24, 2.2], [-7.16, 1.98], [-6.86, 1.64], [-6.63, 1.18], [-6.56, 0.73], [-6.71, 0.28], [-7.01, -0.06], [-7.46, -0.4]],
  [[-12, -1.03], [-9.73, -0.91], [-8.22, -0.74], [-7.46, -0.4]],
  [[-12, -1.2], [-10.5, -1.1], [-8.8, -0.9], [-7.7, -0.6], [-7.3, -0.3]],
  [[-12, -2.9], [-11.6, -2.6], [-11.09, -1.99], [-11.4, -1.31], [-10.49, -1.08], [-8.22, -0.74], [-7.46, -0.4]],
  [[-12, -2.1], [-11.7, -1.88], [-11.62, -1.54], [-11.85, -1.31], [-12, -1.25]],
  [[-12, -2.55], [-11.5, -2.2], [-11.3, -1.7], [-11.5, -1.3], [-10.8, -1.15], [-9, -0.95], [-7.6, -0.5]],
  [[-12, -6.64], [-11.55, -6.2], [-11.32, -5.62], [-11.09, -3.8], [-11.02, -2.67], [-11.02, -1.76], [-10.79, -1.42], [-8.98, -1.08], [-7.46, -0.5]],
  [[-12, -6.45], [-11.3, -6.0], [-10.94, -5.62], [-10.79, -3.8], [-10.49, -2.67], [-10.41, -2.22], [-10.19, -1.76], [-8.98, -1.2], [-7.5, -0.55]],
  [[-12, -6.3], [-10.8, -5.9], [-10.26, -5.51], [-10.11, -4.37], [-9.73, -3.24], [-9.28, -2.44], [-8.6, -1.54], [-7.46, -0.6]],
  [[-12, -6.1], [-10.2, -5.4], [-9.58, -4.6], [-9.4, -3.8], [-8.98, -2.9], [-8.22, -1.76], [-7.46, -0.6]],
];

const COLOR: Record<string, string> = {
  NH3: "#008000",
  CO2: "#800080",
  HCN: "#000000",
  CH4: "#ff0000",
  N2: "#00ff00",
  CO: "#ffa500",
  H2O: "#0000ff",
};
const ORDER = ["NH3", "CO2", "HCN", "CH4", "N2", "CO", "H2O"];

type Label = { parts: [string, boolean][]; x: number; y: number; color: string };
type Note = { text: string; x: number; y: number; color: string; rot: number };

const lab = (s: string, sub: string, rest: string, x: number, y: number, sp: string): Label => ({
  parts: rest ? [[s, false], [sub, true], [rest, false]] : sub ? [[s, false], [sub, true]] : [[s, false]],
  x, y, color: COLOR[sp],
});

const panels = [
  {
    title: "WASP-43b equilibrium as fct of longitude", tag: "(a)", top: 34.7, titleY: 29,
    data: { NH3: A_NH3, CO2: A_CO2, HCN: A_HCN, CH4: A_CH4, N2: A_N2, CO: A_CO, H2O: A_H2O } as Record<string, Pt[][]>,
    labels: [
      lab("N", "2", "", 484, 243, "N2"), lab("CO", "", "", 589, 274, "CO"), lab("CH", "4", "", 477, 385, "CH4"),
      lab("H", "2", " O", 586, 422, "H2O"), lab("NH", "3", "", 431, 437, "NH3"), lab("CO", "2", "", 280, 422, "CO2"),
      lab("HCN", "", "", 325, 451, "HCN"),
    ],
    notes: [
      { text: "night", x: 294, y: 193, color: COLOR.NH3, rot: 48 },
      { text: "day", x: 127, y: 215, color: COLOR.NH3, rot: 35 },
      { text: "day", x: 157, y: 303, color: COLOR.CH4, rot: 33 },
      { text: "night", x: 465, y: 310, color: COLOR.CH4, rot: -52 },
    ] as Note[],
  },
  {
    title: "WASP-43b 1D chem as fct of longitude", tag: "(b)", top: 580, titleY: 574,
    data: { NH3: B_NH3, CO2: B_CO2, HCN: B_HCN, CH4: B_CH4, N2: B_N2, CO: B_CO, H2O: B_H2O } as Record<string, Pt[][]>,
    labels: [
      lab("N", "2", "", 530, 789, "N2"), lab("CO", "", "", 589, 819, "CO"), lab("CH", "4", "", 477, 931, "CH4"),
      lab("H", "2", " O", 586, 967, "H2O"), lab("NH", "3", "", 431, 981, "NH3"), lab("CO", "2", "", 280, 967, "CO2"),
      lab("HCN", "", "", 198, 699, "HCN"),
    ],
    notes: [
      { text: "night", x: 304, y: 737, color: COLOR.HCN, rot: 90 },
      { text: "day", x: 418, y: 766, color: COLOR.HCN, rot: -60 },
      { text: "night", x: 442, y: 768, color: COLOR.CH4, rot: 90 },
      { text: "day", x: 176, y: 778, color: COLOR.NH3, rot: 15 },
      { text: "night", x: 393, y: 847, color: COLOR.NH3, rot: 90 },
      { text: "day", x: 212, y: 864, color: COLOR.CH4, rot: 30 },
    ] as Note[],
  },
  {
    title: "WASP-43b pseudo-2D chem as fct of longitude", tag: "(c)", top: 1124, titleY: 1117,
    data: { NH3: C_NH3, CO2: C_CO2, HCN: C_HCN, CH4: C_CH4, N2: C_N2, CO: C_CO, H2O: C_H2O } as Record<string, Pt[][]>,
    labels: [
      lab("N", "2", "", 530, 1334, "N2"), lab("CO", "", "", 589, 1363, "CO"), lab("CH", "4", "", 477, 1475, "CH4"),
      lab("H", "2", " O", 586, 1510, "H2O"), lab("NH", "3", "", 431, 1525, "NH3"), lab("CO", "2", "", 280, 1515, "CO2"),
      lab("HCN", "", "", 325, 1543, "HCN"),
    ],
    notes: [
      { text: "day", x: 106, y: 1229, color: COLOR.CH4, rot: 30 },
      { text: "night", x: 188, y: 1231, color: COLOR.NH3, rot: 75 },
      { text: "night", x: 387, y: 1260, color: COLOR.CH4, rot: 90 },
      { text: "day", x: 108, y: 1305, color: COLOR.NH3, rot: 35 },
    ] as Note[],
  },
];

const LEFT = 85;
const RIGHT = 643.3;
const HEIGHT = 432;
const FONT = "DejaVu Sans, sans-serif";
const SUBFONT = "DejaVu Serif, serif";

function Panel({ p, idx }: { p: (typeof panels)[number]; idx: number }) {
  const top = p.top;
  const bottom = top + HEIGHT;
  const x = d3.scaleLog().domain([1e-12, 1e-2]).range([LEFT, RIGHT]);
  const y = d3.scaleLog().domain([1e-8, Math.pow(10, P_BOTTOM)]).range([top, bottom]);
  const line = d3
    .line<Pt>()
    .x((d) => x(Math.pow(10, d[0])))
    .y((d) => y(Math.pow(10, d[1])))
    .curve(d3.curveCatmullRom.alpha(0.5));
  const clip = `clip${idx}`;
  const minors: number[] = [];
  X_DECADES.slice(0, -1).forEach((e) => {
    for (let k = 2; k <= 9; k++) minors.push(k * Math.pow(10, e));
  });
  const midY = (top + bottom) / 2;
  return (
    <g>
      <defs>
        <clipPath id={clip}>
          <rect x={LEFT} y={top} width={RIGHT - LEFT} height={HEIGHT} />
        </clipPath>
      </defs>
      <g clipPath={`url(#${clip})`} fill="none" strokeLinejoin="round" strokeLinecap="round">
        {ORDER.map((sp) =>
          (p.data[sp] || []).map((ln, i) => (
            <path
              key={sp + i}
              d={line(ln) || ""}
              stroke={COLOR[sp]}
              strokeWidth={sp === "N2" && i === 0 ? 3 : ln[0][1] >= 6 || ln[ln.length - 1][1] >= 6 ? 2.7 : 2}
            />
          ))
        )}
      </g>
      <rect x={LEFT} y={top} width={RIGHT - LEFT} height={HEIGHT} fill="none" stroke="#000" strokeWidth={1.2} />
      {X_DECADES.map((e) => {
        const xx = x(Math.pow(10, e));
        return (
          <g key={"xt" + e}>
            <line x1={xx} x2={xx} y1={bottom} y2={bottom - 5} stroke="#000" />
            <line x1={xx} x2={xx} y1={top} y2={top + 5} stroke="#000" />
            <text x={xx} y={bottom + 24} textAnchor="middle" fontSize={19.5} fontFamily={FONT}>
              <tspan>10</tspan>
              <tspan dy={-11} fontSize={13.5}>{e}</tspan>
            </text>
          </g>
        );
      })}
      {minors.map((v, i) => {
        const xx = x(v);
        return (
          <g key={"xm" + i}>
            <line x1={xx} x2={xx} y1={bottom} y2={bottom - 2.5} stroke="#000" />
            <line x1={xx} x2={xx} y1={top} y2={top + 2.5} stroke="#000" />
          </g>
        );
      })}
      {Y_DECADES.map((e) => {
        const yy = y(Math.pow(10, e));
        return (
          <g key={"yt" + e}>
            <line x1={LEFT} x2={LEFT + 5} y1={yy} y2={yy} stroke="#000" />
            <line x1={RIGHT} x2={RIGHT - 5} y1={yy} y2={yy} stroke="#000" />
            <text x={75} y={yy + 7} textAnchor="end" fontSize={19.5} fontFamily={FONT}>
              <tspan>10</tspan>
              <tspan dy={-11} fontSize={13.5}>{e}</tspan>
            </text>
          </g>
        );
      })}
      <text x={(LEFT + RIGHT) / 2 + 1} y={p.titleY} textAnchor="middle" fontSize={25} fontFamily={FONT}>
        {p.title}
      </text>
      <text x={(LEFT + RIGHT) / 2} y={bottom + 51} textAnchor="middle" fontSize={23} fontFamily={FONT}>
        Mole fraction
      </text>
      <text
        transform={`translate(30,${midY}) rotate(-90)`}
        textAnchor="middle"
        fontSize={23}
        fontFamily={FONT}
      >
        Pressure (mbar)
      </text>
      <text x={102} y={bottom - 14} fontSize={22} fontFamily={FONT}>
        {p.tag}
      </text>
      {p.labels.map((l, i) => (
        <text key={"l" + i} x={l.x} y={l.y} fill={l.color} fontSize={22} fontFamily={FONT}>
          {l.parts.map(([s, sub], j) => (
            <tspan
              key={j}
              dy={sub ? 6 : j > 0 ? -6 : 0}
              fontSize={sub ? 15 : 22}
              fontFamily={sub ? SUBFONT : FONT}
            >
              {s}
            </tspan>
          ))}
        </text>
      ))}
      {p.notes.map((n, i) => (
        <text
          key={"n" + i}
          transform={`translate(${n.x},${n.y}) rotate(${n.rot})`}
          textAnchor="middle"
          dominantBaseline="central"
          fill={n.color}
          fontSize={15.5}
          fontFamily={FONT}
        >
          {n.text}
        </text>
      ))}
    </g>
  );
}

export default function App() {
  return (
    <svg
      width={663}
      height={1612}
      style={{ position: "absolute", left: 0, top: 0, background: "#fff" }}
    >
      <rect width={663} height={1612} fill="#fff" />
      {panels.map((p, i) => (
        <Panel key={i} p={p} idx={i} />
      ))}
    </svg>
  );
}
